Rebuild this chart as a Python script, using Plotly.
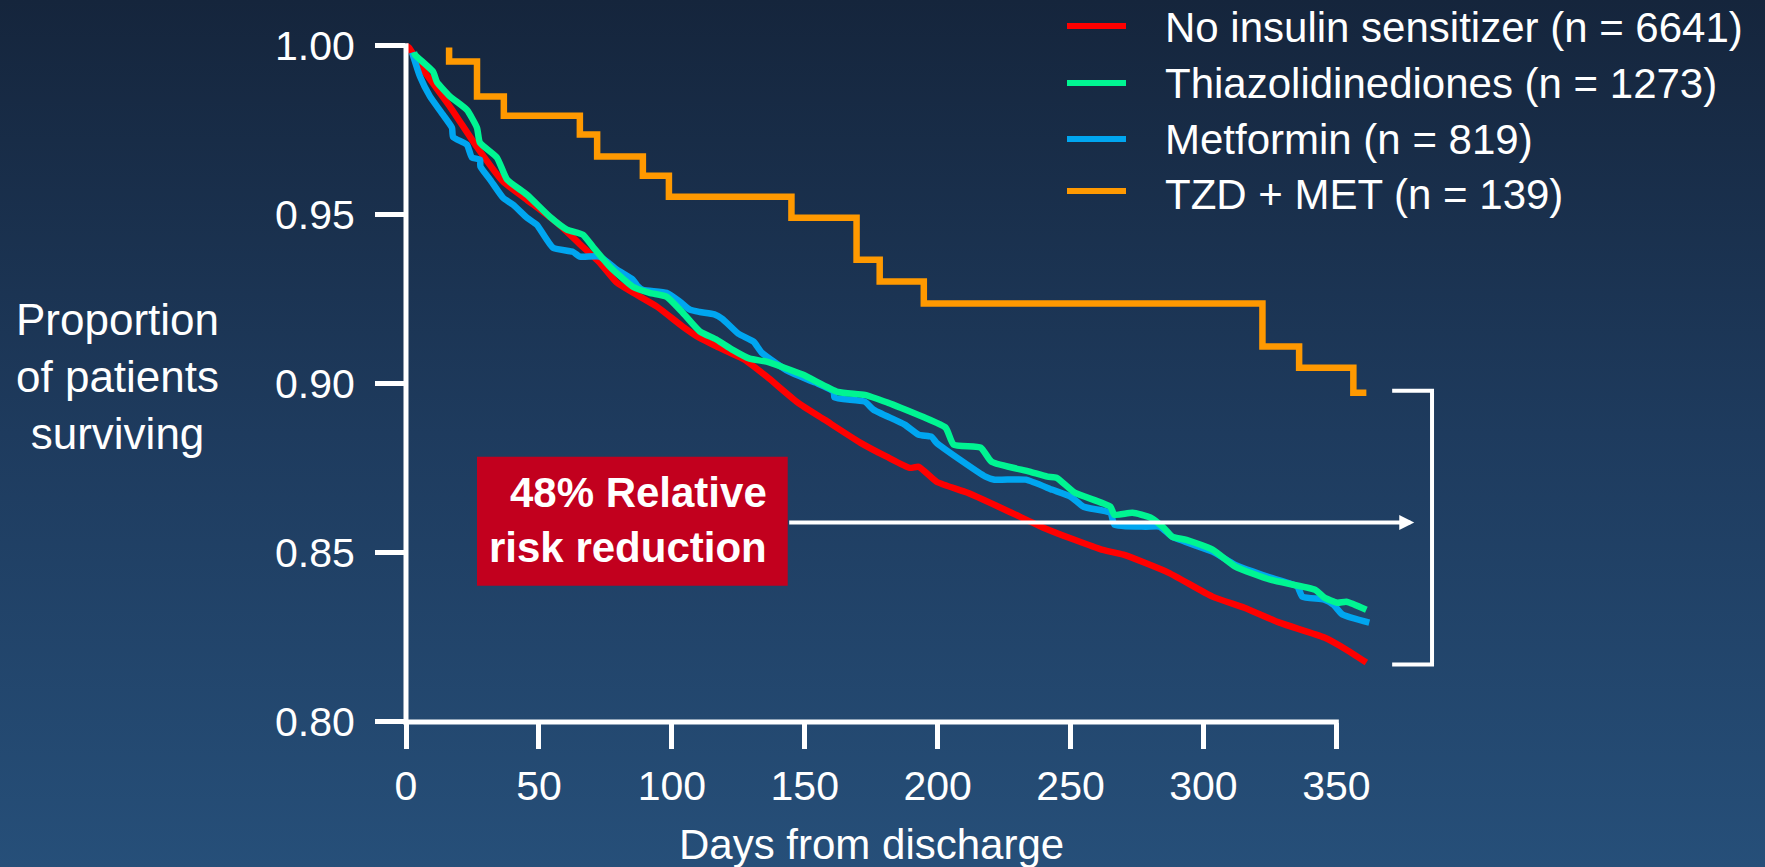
import base64
import plotly.graph_objects as go

# ---------------- data ----------------
series_names = [
    "No insulin sensitizer (n = 6641)",
    "Thiazolidinediones (n = 1273)",
    "Metformin (n = 819)",
    "TZD + MET (n = 139)",
]
series_colors = ["#FF0000", "#00F592", "#00A6F0", "#FF9900"]

none_days = [0, 1, 6.4, 16.5, 26.7, 36.5, 45.5, 56.8, 66.5, 72.9, 79.3, 86.8, 94.4, 104.1,
             110.5, 116.9, 127.4, 135.7, 147.4, 157.5, 171, 180.8, 189.5, 192.9, 199.6, 211.3,
             227.8, 239.8, 251.5, 261.7, 269.9, 286.8, 303.4, 315.4, 328.6, 345.5, 353.8, 361.3]
none_surv = [1.0, 0.9995, 0.9929, 0.982, 0.970, 0.9598, 0.9544, 0.9476, 0.9405, 0.9358, 0.9299,
             0.9263, 0.9228, 0.9169, 0.9135, 0.911, 0.9071, 0.9021, 0.8944, 0.8893, 0.8825,
             0.8784, 0.8751, 0.8754, 0.871, 0.8677, 0.8618, 0.8574, 0.8538, 0.8509, 0.8494,
             0.8441, 0.837, 0.8337, 0.8293, 0.8249, 0.8213, 0.8175]

tzd_days = [3, 3.4, 10.2, 11.6, 16.5, 22.9, 26.7, 27.8, 34.2, 38, 45.5, 54.1, 60.5, 66.5, 70.3,
            76.7, 85.3, 91.7, 98.1, 104.1, 110.5, 116.9, 122.9, 129.3, 135.7, 149.2, 162.4,
            172.6, 181.2, 186.1, 194.4, 203, 206, 216.2, 220.3, 234.6, 241.3, 244.7, 251.5, 265,
            266.5, 273.3, 280, 285, 288.3, 293.6, 303.4, 312, 325.2, 342.1, 345.5, 350.4, 353.8,
            361.3]
tzd_surv = [0.998, 0.9973, 0.9923, 0.9893, 0.985, 0.981, 0.9757, 0.9713, 0.9669, 0.9604, 0.9559,
            0.9494, 0.9456, 0.9441, 0.9405, 0.9346, 0.9287, 0.9269, 0.9257, 0.921, 0.9155, 0.913,
            0.910, 0.9074, 0.9065, 0.9027, 0.8976, 0.8967, 0.8944, 0.8929, 0.8902, 0.887, 0.882,
            0.8811, 0.8769, 0.874, 0.8725, 0.8722, 0.8678, 0.8636, 0.8612, 0.8618, 0.8604,
            0.8574, 0.8547, 0.8538, 0.8509, 0.8459, 0.842, 0.839, 0.8367, 0.8352, 0.8355, 0.8331]

met_days = [2.3, 5.3, 9, 13.9, 17.3, 17.7, 22.9, 24.8, 27.8, 28, 31.6, 36.5, 40.2, 45.5, 49.2,
            55.3, 62.8, 65.4, 72.9, 79.3, 85.3, 87, 89, 98, 103, 106.8, 110.5, 116, 119, 125,
            130.8, 133.8, 144, 154.1, 160.9, 161.2, 172.6, 175.9, 187.6, 192.9, 197.7, 199.6,
            218, 221.4, 233.1, 243.2, 250, 254.9, 265, 266.5, 278.2, 283.5, 288.3, 303.4, 312,
            325.2, 335.3, 337.2, 345.5, 348.9, 352.3, 362.4]
met_surv = [0.998, 0.9908, 0.985, 0.9796, 0.9757, 0.973, 0.9707, 0.9669, 0.9663, 0.9642, 0.9604,
            0.955, 0.953, 0.9491, 0.947, 0.9402, 0.939, 0.9376, 0.9376, 0.9337, 0.9308, 0.929,
            0.9278, 0.9269, 0.9243, 0.9219, 0.9212, 0.9205, 0.9192, 0.9148, 0.9124, 0.9092,
            0.9036, 0.9003, 0.8976, 0.8959, 0.8947, 0.8923, 0.8879, 0.8849, 0.8843, 0.8825,
            0.8725, 0.8716, 0.8716, 0.8686, 0.8666, 0.8636, 0.8618, 0.8583, 0.8577, 0.8577,
            0.8547, 0.8503, 0.8464, 0.8426, 0.84, 0.837, 0.8361, 0.8346, 0.8317, 0.8293]

combo_days = [16.2, 16.2, 26.7, 36.8, 65.4, 71.9, 89.1, 98.9, 145.0, 169.5, 178.2, 194.8,
              322.2, 336.0, 356.4, 361.3]
combo_surv = [0.9995, 0.9953, 0.985, 0.9793, 0.9737, 0.9672, 0.9615, 0.9553, 0.9491, 0.9367,
              0.9302, 0.9237, 0.911, 0.9047, 0.8973, 0.8973]

x_tick_vals = [0, 50, 100, 150, 200, 250, 300, 350]
y_tick_vals = [0.80, 0.85, 0.90, 0.95, 1.00]

rrr_text = "<b>48% Relative<br>risk reduction</b>"
x_title = "Days from discharge"
y_title = "Proportion<br>of patients<br>surviving"

# ---------------- layout geometry ----------------
W, H = 1765, 867
M_L, M_R, M_T, M_B = 406, 325, 43, 145
PW, PH = W - M_L - M_R, H - M_T - M_B
X_RANGE = [-0.01, 389.0]
Y_RANGE = [0.7999, 1.0008]
FONT = "Liberation Sans, Arial, sans-serif"
WHITE = "#FFFFFF"


def px_x(px):
    return (px - M_L) / PW


def px_y(py):
    return (H - M_B - py) / PH


def data_x_paper(v):
    return (v - X_RANGE[0]) / (X_RANGE[1] - X_RANGE[0])


def data_y_paper(v):
    return (v - Y_RANGE[0]) / (Y_RANGE[1] - Y_RANGE[0])


fig = go.Figure()

curve_data = [(none_days, none_surv, 0), (met_days, met_surv, 2), (tzd_days, tzd_surv, 1)]
for xs, ys, idx in curve_data:
    fig.add_trace(go.Scatter(x=xs, y=ys, mode="lines", name=series_names[idx],
                             line=dict(color=series_colors[idx], width=6.5,
                                       shape="spline", smoothing=0.5),
                             showlegend=False, hoverinfo="skip"))
fig.add_trace(go.Scatter(x=combo_days, y=combo_surv, mode="lines", name=series_names[3],
                         line=dict(color=series_colors[3], width=6.5, shape="hv"),
                         showlegend=False, hoverinfo="skip"))

# background gradient
svg = ("<svg xmlns='http://www.w3.org/2000/svg' width='1765' height='867' "
       "preserveAspectRatio='none'><defs><linearGradient id='g' x1='0' y1='0' x2='0' y2='1'>"
       "<stop offset='0' stop-color='#15253C'/><stop offset='0.5' stop-color='#1E3B5E'/>"
       "<stop offset='1' stop-color='#264F79'/></linearGradient></defs>"
       "<rect width='1765' height='867' fill='url(#g)'/></svg>")
src = "data:image/svg+xml;base64," + base64.b64encode(svg.encode()).decode()

shapes = []
# axis lines
shapes.append(dict(type="line", xref="paper", yref="paper",
                   x0=px_x(M_L - 2.5), x1=data_x_paper(350) + 2.5 / PW,
                   y0=0, y1=0, line=dict(color=WHITE, width=5)))
shapes.append(dict(type="line", xref="paper", yref="paper",
                   x0=0, x1=0, y0=-2.5 / PH, y1=data_y_paper(1.0) + 2.5 / PH,
                   line=dict(color=WHITE, width=5)))
# red box
shapes.append(dict(type="rect", xref="x", yref="y", x0=26.7, x1=143.6, y0=0.8402, y1=0.8784,
                   fillcolor="#C2001E", line=dict(width=0), layer="below"))
# bracket
shapes.append(dict(type="path", xref="x", yref="y",
                   path="M 371,0.8979 L 386,0.8979 L 386,0.8169 L 371,0.8169",
                   line=dict(color=WHITE, width=4)))

annotations = []
# legend (drawn manually)
leg_line_y = [26, 83, 139, 191]
leg_text_y = [27, 83, 139, 194]
for i, name in enumerate(series_names):
    shapes.append(dict(type="line", xref="paper", yref="paper", x0=px_x(1067), x1=px_x(1126),
                       y0=px_y(leg_line_y[i]), y1=px_y(leg_line_y[i]),
                       line=dict(color=series_colors[i], width=6)))
    annotations.append(dict(xref="paper", yref="paper", x=px_x(1163), y=px_y(leg_text_y[i]),
                            text=name, showarrow=False, xanchor="left", yanchor="middle",
                            font=dict(family=FONT, size=42, color=WHITE)))

annotations.append(dict(xref="x", yref="y", x=136.6, y=0.8598, text=rrr_text, showarrow=False,
                        xanchor="right", yanchor="middle", align="right",
                        font=dict(family=FONT, size=42, color=WHITE)))
annotations.append(dict(xref="x", yref="y", x=379.3, y=0.8589, ax=143.6, ay=0.8589,
                        axref="x", ayref="y", text="", showarrow=True, arrowhead=2,
                        arrowsize=0.75, arrowwidth=4, arrowcolor=WHITE, standoff=0,
                        startstandoff=0))
annotations.append(dict(xref="paper", yref="paper", x=px_x(117), y=px_y(376), text=y_title,
                        showarrow=False, xanchor="center", yanchor="middle", align="center",
                        font=dict(family=FONT, size=44, color=WHITE)))
annotations.append(dict(xref="x", yref="paper", x=175, y=px_y(844), text=x_title,
                        showarrow=False, xanchor="center", yanchor="middle",
                        font=dict(family=FONT, size=42, color=WHITE)))

fig.update_layout(
    width=W, height=H, autosize=False,
    margin=dict(l=M_L, r=M_R, t=M_T, b=M_B, pad=0),
    paper_bgcolor="#1E3B5E", plot_bgcolor="rgba(0,0,0,0)",
    showlegend=False,
    font=dict(family=FONT, color=WHITE),
    images=[dict(source=src, xref="paper", yref="paper", x=px_x(0), y=px_y(0),
                 sizex=W / PW, sizey=H / PH, xanchor="left", yanchor="top",
                 sizing="stretch", layer="below")],
    shapes=shapes,
    annotations=annotations,
)
fig.update_xaxes(range=X_RANGE, tickmode="array", tickvals=x_tick_vals,
                 ticktext=[str(v) for v in x_tick_vals],
                 showgrid=False, zeroline=False, showline=False,
                 ticks="outside", ticklen=26, tickwidth=5, tickcolor=WHITE,
                 tickfont=dict(family=FONT, size=41, color=WHITE), ticklabelstandoff=2,
                 fixedrange=True)
fig.update_yaxes(range=Y_RANGE, tickmode="array", tickvals=y_tick_vals,
                 ticktext=["%.2f" % v for v in y_tick_vals],
                 showgrid=False, zeroline=False, showline=False,
                 ticks="outside", ticklen=30, tickwidth=5, tickcolor=WHITE,
                 tickfont=dict(family=FONT, size=41, color=WHITE), ticklabelstandoff=12,
                 fixedrange=True)

fig.write_html("out.html")
